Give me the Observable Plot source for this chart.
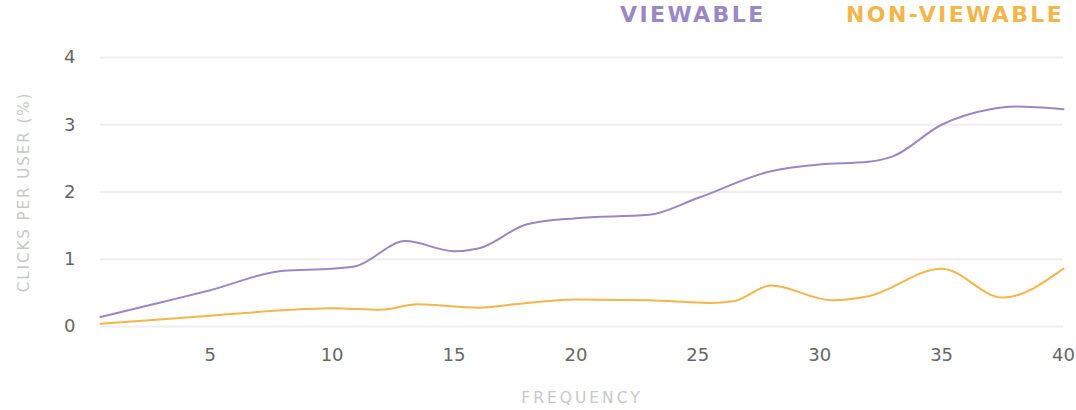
<!DOCTYPE html>
<html><head><meta charset="utf-8">
<script src="https://cdn.jsdelivr.net/npm/d3@7"></script>
<script src="https://cdn.jsdelivr.net/npm/@observablehq/plot@0.6"></script>
<style>
body{margin:0;background:#fff;font-family:"DejaVu Sans",sans-serif;}
#legend{height:30px;position:relative;}
#legend span{position:absolute;top:0px;font-size:22px;line-height:30px;font-weight:700;letter-spacing:2.4px;}
</style></head><body>
<div id="legend"></div>
<div id="chart"></div>
<script>
const seriesNames = ["VIEWABLE", "NON-VIEWABLE"];
const colors = ["#9a88c6", "#f4b54a"];
const viewX = [0.5, 3, 5, 8, 10, 11, 13, 15, 16, 18, 20, 23, 25, 28, 30, 32, 33, 35, 37, 38, 40];
const viewY = [0.14, 0.36, 0.54, 0.83, 0.86, 0.9, 1.27, 1.12, 1.16, 1.52, 1.61, 1.66, 1.91, 2.31, 2.41, 2.45, 2.53, 3.0, 3.23, 3.27, 3.23];
const nonX = [0.5, 5, 8, 10, 12, 13.5, 16, 17.5, 20, 23, 25.5, 26.5, 28, 30.5, 32, 35, 37.5, 40];
const nonY = [0.04, 0.16, 0.24, 0.27, 0.25, 0.33, 0.28, 0.33, 0.4, 0.39, 0.35, 0.38, 0.61, 0.39, 0.45, 0.86, 0.43, 0.86];
const xTicks = [5, 10, 15, 20, 25, 30, 35, 40];
const yTicks = [0, 1, 2, 3, 4];

const data = [
  ...viewX.map((x, i) => ({series: seriesNames[0], x, y: viewY[i]})),
  ...nonX.map((x, i) => ({series: seriesNames[1], x, y: nonY[i]}))
];

const legend = document.getElementById("legend");
[[seriesNames[0], 620], [seriesNames[1], 846]].forEach(([n, left], i) => {
  const s = document.createElement("span");
  s.textContent = n; s.style.left = left + "px"; s.style.color = colors[i];
  legend.appendChild(s);
});

const chart = Plot.plot({
  width: 1076, height: 380,
  marginLeft: 100, marginRight: 13, marginTop: 27, marginBottom: 84,
  style: {fontFamily: "'DejaVu Sans', sans-serif"},
  x: {domain: [0.5, 40]},
  y: {domain: [0, 4]},
  color: {domain: seriesNames, range: colors},
  marks: [
    Plot.gridY(yTicks, {stroke: "#eeeeee", strokeOpacity: 1, strokeWidth: 2}),
    Plot.axisY(yTicks, {tickSize: 0, tickPadding: 25, fontSize: 18, fill: "#666", tickFormat: "d",
      label: "CLICKS PER USER (%)", labelAnchor: "center", labelArrow: "none", labelOffset: 82}),
    Plot.axisX(xTicks, {tickSize: 0, tickPadding: 22, fontSize: 18, fill: "#666", tickFormat: "d",
      label: "FREQUENCY", labelAnchor: "center", labelArrow: "none", labelOffset: 76}),
    Plot.line(data, {x: "x", y: "y", z: "series", stroke: "series", strokeWidth: 2, curve: "monotone-x"})
  ]
});
document.getElementById("chart").appendChild(chart);
chart.querySelectorAll("g[aria-label='y-axis label'] text").forEach(t => {
  t.setAttribute("fill", "#c8c8c8"); t.style.fontSize = "15px"; t.style.letterSpacing = "2px";
});
chart.querySelectorAll("g[aria-label='x-axis label'] text").forEach(t => {
  t.setAttribute("fill", "#c8c8c8"); t.style.fontSize = "15.5px"; t.style.letterSpacing = "3px";
});
</script>
</body></html>
